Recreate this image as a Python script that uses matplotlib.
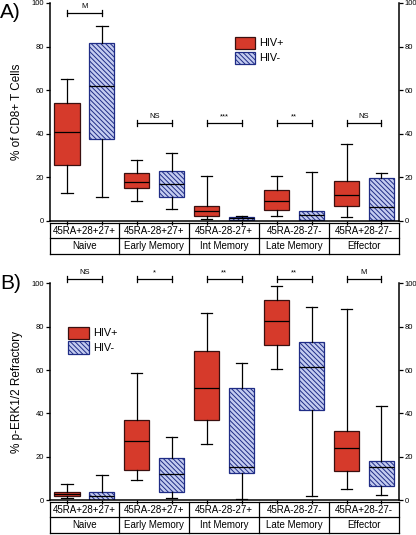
import matplotlib
matplotlib.use("Agg")
import matplotlib.pyplot as plt
from matplotlib.patches import Patch

plt.rcParams["font.family"] = ["Liberation Sans", "DejaVu Sans"]
plt.rcParams["hatch.linewidth"] = 0.7

groups = ["Naive", "Early Memory", "Int Memory", "Late Memory", "Effector"]
phenotypes = ["45RA+28+27+", "45RA-28+27+", "45RA-28-27+", "45RA-28-27-", "45RA+28-27-"]

# Panel A: % of CD8+ T cells (low, q1, median, q3, high)
a_pos_low = [13, 9, 0.8, 2.5, 2]
a_pos_q1 = [25.5, 15, 2.5, 5, 7]
a_pos_med = [41, 18, 4.5, 9, 12]
a_pos_q3 = [54, 21.8, 7, 14.3, 18.5]
a_pos_high = [65, 28, 20.5, 20.5, 35.3]

a_neg_low = [11, 5.5, 0.2, 0, 0]
a_neg_q1 = [37.5, 11, 0.5, 0.5, 0.5]
a_neg_med = [62, 17, 1.5, 2.8, 6.5]
a_neg_q3 = [81.5, 22.7, 2, 4.5, 19.6]
a_neg_high = [89.6, 31, 2.3, 22.5, 22]

a_sig = ["M", "NS", "***", "**", "NS"]
a_sig_y = [95.5, 45, 45, 45, 45]

# Panel B: % p-ERK1/2 refractory
b_pos_low = [1, 9.2, 25.8, 60.7, 5.4]
b_pos_q1 = [1.8, 13.7, 36.9, 71.7, 13.4]
b_pos_med = [2.8, 27.5, 51.9, 82.8, 24.1]
b_pos_q3 = [3.8, 37.2, 68.7, 92.3, 32.1]
b_pos_high = [7.7, 58.4, 86.2, 98.9, 88.3]

b_neg_low = [0, 0.8, 0.5, 2, 2.3]
b_neg_q1 = [0.3, 3.7, 12.4, 41.6, 6.6]
b_neg_med = [2, 12.3, 15.2, 61.3, 15.2]
b_neg_q3 = [3.7, 19.5, 51.5, 73, 18]
b_neg_high = [11.7, 29.3, 63.1, 89.2, 43.5]

b_sig = ["NS", "*", "**", "**", "M"]
b_sig_y = [102, 102, 102, 102, 102]

RED = "#d63a2b"
BLUE_FACE = "#c4ccf0"
BLUE_EDGE = "#1f2c86"
HATCH = "\\" * 7


def stats(low, q1, med, q3, high):
    return [dict(whislo=l, q1=a, med=m, q3=b, whishi=h, fliers=[])
            for l, a, m, b, h in zip(low, q1, med, q3, high)]


def panel(ax, pos_stats, neg_stats, sig, sig_y, ylabel, letter, letter_y, legend_xy):
    n = len(groups)
    pos_x = [2 * i for i in range(n)]
    neg_x = [2 * i + 1 for i in range(n)]
    line = dict(color="black", linewidth=0.9)
    ax.bxp(pos_stats, positions=pos_x, widths=0.72, capwidths=0.32,
           patch_artist=True, showfliers=False,
           boxprops=dict(facecolor=RED, edgecolor="#3a1010", linewidth=0.9),
           medianprops=line, whiskerprops=line, capprops=line)
    ax.bxp(neg_stats, positions=neg_x, widths=0.72, capwidths=0.32,
           patch_artist=True, showfliers=False,
           boxprops=dict(facecolor=BLUE_FACE, edgecolor=BLUE_EDGE,
                         linewidth=0.9, hatch=HATCH),
           medianprops=line, whiskerprops=line, capprops=line)

    ax.set_xlim(-0.5, 2 * n - 0.5)
    ax.set_ylim(0, 100)
    ax.set_yticks([0, 20, 40, 60, 80, 100])
    ax.set_xticks(pos_x + neg_x)
    ax.set_xticklabels([])
    ax.tick_params(axis="y", labelsize=5.5, length=3, width=0.9,
                   right=True, labelright=True, pad=1)
    ax.tick_params(axis="x", length=3, width=0.9)
    ax.spines["top"].set_visible(False)
    for s in ["left", "right", "bottom"]:
        ax.spines[s].set_linewidth(1.1)
    ax.set_ylabel(ylabel, fontsize=8.5, labelpad=6)

    # significance brackets
    for i in range(n):
        y = sig_y[i]
        ax.plot([pos_x[i], neg_x[i]], [y, y], color="black", lw=0.9, clip_on=False)
        for xx in (pos_x[i], neg_x[i]):
            ax.plot([xx, xx], [y - 1.3, y + 1.3], color="black", lw=0.9, clip_on=False)
        ax.text((pos_x[i] + neg_x[i]) / 2, y + 1.2, sig[i], ha="center", va="bottom",
                fontsize=5.5, clip_on=False)

    # category table under the axis
    tr = ax.get_xaxis_transform()
    top, mid, bot = -0.01, -0.078, -0.152
    left, right = -0.5, 2 * n - 0.5
    for yy in (top, mid, bot):
        ax.plot([left, right], [yy, yy], color="black", lw=0.9, transform=tr, clip_on=False)
    for i in range(n + 1):
        xx = 2 * i - 0.5
        ax.plot([xx, xx], [top, bot], color="black", lw=0.9, transform=tr, clip_on=False)
    for i in range(n):
        cx = 2 * i + 0.5
        ax.text(cx, (top + mid) / 2, phenotypes[i], transform=tr, ha="center",
                va="center", fontsize=7.0)
        ax.text(cx, (mid + bot) / 2, groups[i], transform=tr, ha="center",
                va="center", fontsize=7.0)

    ax.text(-0.142, letter_y, letter, transform=ax.transAxes, fontsize=15,
            ha="left", va="center")

    handles = [Patch(facecolor=RED, edgecolor="#3a1010", linewidth=0.9, label="HIV+"),
               Patch(facecolor=BLUE_FACE, edgecolor=BLUE_EDGE, linewidth=0.9,
                     hatch=HATCH, label="HIV-")]
    ax.legend(handles=handles, loc="upper left", bbox_to_anchor=legend_xy,
              frameon=False, fontsize=7.8, handlelength=1.9, handleheight=1.35,
              handletextpad=0.4, labelspacing=0.25, borderpad=0, borderaxespad=0)


fig = plt.figure(figsize=(4.16, 5.35), dpi=100)
ax_a = fig.add_axes([0.119, 0.587, 0.840, 0.4075])
ax_b = fig.add_axes([0.119, 0.065, 0.840, 0.4056])

panel(ax_a,
      stats(a_pos_low, a_pos_q1, a_pos_med, a_pos_q3, a_pos_high),
      stats(a_neg_low, a_neg_q1, a_neg_med, a_neg_q3, a_neg_high),
      a_sig, a_sig_y, "% of CD8+ T Cells", "A)", 0.958, (0.53, 0.845))
panel(ax_b,
      stats(b_pos_low, b_pos_q1, b_pos_med, b_pos_q3, b_pos_high),
      stats(b_neg_low, b_neg_q1, b_neg_med, b_neg_q3, b_neg_high),
      b_sig, b_sig_y, "% p-ERK1/2 Refractory", "B)", 1.0, (0.053, 0.80))

fig.savefig("out.png", dpi=100)
